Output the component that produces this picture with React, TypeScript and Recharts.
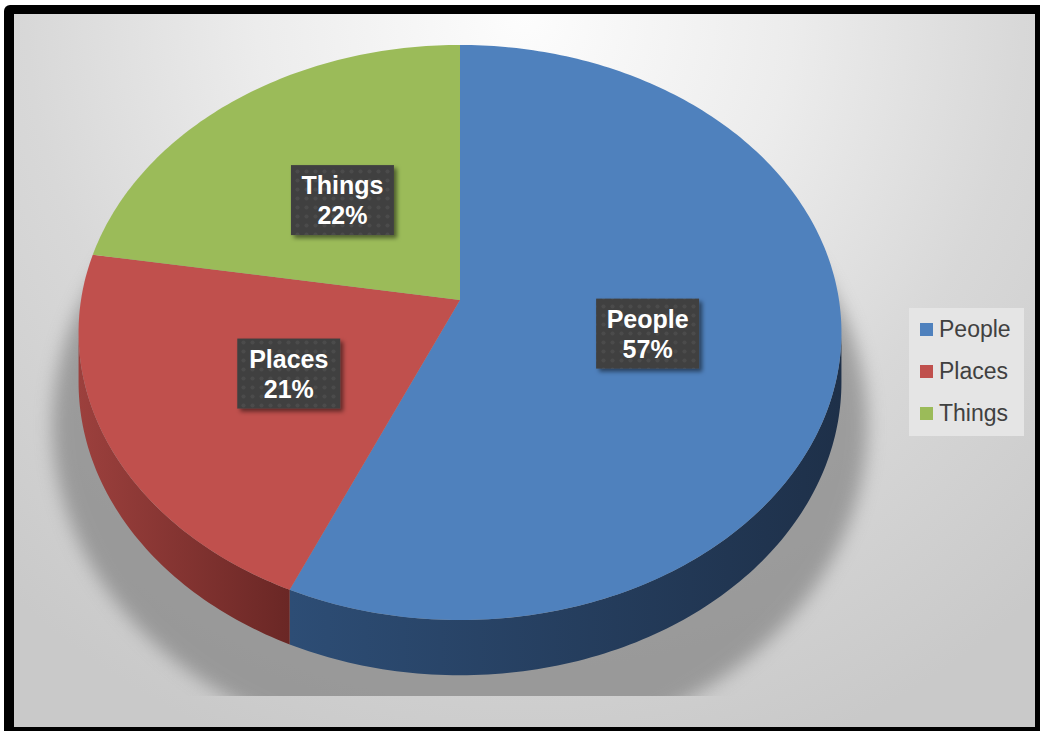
import React from 'react';
import { PieChart, Pie, Cell, Legend } from 'recharts';

const categories = ['People', 'Places', 'Things'];
const shares = [56.6, 21.0, 22.4];
const topColors = ['#4f81bd', '#c0504d', '#9bbb59'];
const sideLight = ['#2d4d75', '#9c403d', '#7d9843'];
const sideDark = ['#1e3049', '#6a2725', '#5a7030'];

const data = categories.map((name, i) => ({ name, value: shares[i] }));
const shadowData = [{ name: 'shadow', value: 1 }];

const CHART_W = 1021;
const CHART_H = 713;
const CX = 446;
const CY = 286;
const R = 379;
const K = 0.113; // perspective strength
const YR = 0.749; // vertical squash
const DEPTH = 49; // pie thickness
const LABEL_DROP = 4;

const toTheta = (a: number) => ((90 - a) * Math.PI) / 180;

function proj(cx: number, cy: number, r: number, theta: number, f = 1, drop = 0): [number, number] {
  const u = f * Math.sin(theta);
  const v = f * Math.cos(theta);
  const d = 1 + K * v;
  return [cx + (r * u) / d, cy - (r * YR * v) / d + drop / d];
}

const SectorShape = (props: any) => {
  const { cx, cy, outerRadius, startAngle, endAngle, index, fill } = props;
  const t1 = toTheta(startAngle);
  const t2 = toTheta(endAngle);
  const n = Math.max(8, Math.ceil(Math.abs(t2 - t1) * 60));
  const pts: [number, number][] = [];
  for (let i = 0; i <= n; i++) pts.push(proj(cx, cy, outerRadius, t1 + ((t2 - t1) * i) / n));
  const top = `M${cx},${cy} ` + pts.map((p) => `L${p[0].toFixed(2)},${p[1].toFixed(2)}`).join(' ') + ' Z';

  const vs = Math.PI / 2 + Math.asin(K);
  const ve = (3 * Math.PI) / 2 - Math.asin(K);
  const a = Math.max(Math.min(t1, t2), vs);
  const b = Math.min(Math.max(t1, t2), ve);
  let side: string | null = null;
  if (b > a) {
    const m = Math.max(6, Math.ceil((b - a) * 60));
    const upper: [number, number][] = [];
    const lower: [number, number][] = [];
    for (let i = 0; i <= m; i++) {
      const th = a + ((b - a) * i) / m;
      upper.push(proj(cx, cy, outerRadius, th));
      lower.push(proj(cx, cy, outerRadius, th, 1, DEPTH));
    }
    const all = [...upper, ...lower.reverse()];
    side = 'M' + all.map((p) => `${p[0].toFixed(2)},${p[1].toFixed(2)}`).join(' L') + ' Z';
  }
  const gid = `sideGrad${index}`;
  return (
    <g>
      <defs>
        <linearGradient id={gid} x1="0" y1="0" x2="1" y2="0">
          <stop offset="0%" stopColor={sideLight[index]} />
          <stop offset="100%" stopColor={sideDark[index]} />
        </linearGradient>
      </defs>
      {side && <path d={side} fill={`url(#${gid})`} />}
      <path d={top} fill={fill} />
    </g>
  );
};

const ShadowShape = (props: any) => {
  const { cx, cy, outerRadius: r } = props;
  return (
    <g>
      <defs>
        <filter id="shBlur" x="-30%" y="-30%" width="160%" height="160%">
          <feGaussianBlur stdDeviation="9" />
        </filter>
        <clipPath id="shClip">
          <rect x={cx - 2 * r} y={cy - 2 * r} width={4 * r} height={r * (2 + 1.045)} />
        </clipPath>
      </defs>
      <g clipPath="url(#shClip)">
        <ellipse
          cx={cx}
          cy={cy + 0.33 * r}
          rx={1.075 * r}
          ry={0.87 * r}
          fill="#767676"
          opacity={0.6}
          filter="url(#shBlur)"
        />
      </g>
    </g>
  );
};

const renderLabel = (props: any) => {
  const { cx, cy, outerRadius, midAngle, percent, name, index } = props;
  const [x, y] = proj(cx, cy, outerRadius, toTheta(midAngle), 0.5, LABEL_DROP);
  const w = 103;
  const h = 70;
  return (
    <g key={`lab${index}`}>
      <defs>
        <pattern id={`dots${index}`} width="9" height="9" patternUnits="userSpaceOnUse">
          <rect width="9" height="9" fill="#404040" />
          <circle cx="4.5" cy="4.5" r="2" fill="#4b4b4b" />
        </pattern>
        <filter id={`boxSh${index}`} x="-20%" y="-20%" width="150%" height="150%">
          <feDropShadow dx="3" dy="3" stdDeviation="2" floodColor="#000" floodOpacity="0.5" />
        </filter>
      </defs>
      <rect x={x - w / 2} y={y - h / 2} width={w} height={h} fill={`url(#dots${index})`} filter={`url(#boxSh${index})`} />
      <text
        x={x}
        y={y - 6}
        textAnchor="middle"
        fill="#ffffff"
        fontWeight="bold"
        fontSize={25}
        fontFamily="'Liberation Sans', Arial, sans-serif"
      >
        {name}
      </text>
      <text
        x={x}
        y={y + 24}
        textAnchor="middle"
        fill="#ffffff"
        fontWeight="bold"
        fontSize={25}
        fontFamily="'Liberation Sans', Arial, sans-serif"
      >
        {`${Math.round(percent * 100)}%`}
      </text>
    </g>
  );
};

const renderLegend = (props: any) => {
  const payload = (props.payload || []).filter((p: any) => categories.includes(p.value));
  return (
    <div
      style={{
        width: 115,
        height: 128,
        background: '#e5e5e5',
        fontFamily: "'Liberation Sans', Arial, sans-serif",
      }}
    >
      {payload.map((p: any) => {
        const i = categories.indexOf(p.value);
        return (
          <div key={p.value} style={{ display: 'flex', alignItems: 'center', height: 42 }}>
            <span
              style={{ display: 'inline-block', width: 13, height: 13, background: topColors[i], marginLeft: 11, marginRight: 6 }}
            />
            <span style={{ fontSize: 23, color: '#404040', lineHeight: '42px' }}>{p.value}</span>
          </div>
        );
      })}
    </div>
  );
};

export default function App() {
  return (
    <div
      style={{
        position: 'absolute',
        left: 4,
        top: 5,
        width: 1036,
        height: 726,
        background: '#000',
        borderTopLeftRadius: 6,
      }}
    >
      <div
        style={{
          position: 'absolute',
          left: 10,
          top: 9,
          width: CHART_W,
          height: CHART_H,
          background:
            'radial-gradient(ellipse 75% 110% at 50% 0%, #fdfdfd 0%, #ececec 35%, #d8d8d8 65%, #c9c9c9 100%)',
        }}
      >
        <PieChart width={CHART_W} height={CHART_H} margin={{ top: 0, right: 0, bottom: 0, left: 0 }}>
          <Pie
            data={shadowData}
            dataKey="value"
            nameKey="name"
            cx={CX}
            cy={CY}
            outerRadius={R}
            startAngle={90}
            endAngle={-270}
            isAnimationActive={false}
            legendType="none"
            shape={ShadowShape}
            stroke="none"
          />
          <Pie
            data={data}
            dataKey="value"
            nameKey="name"
            cx={CX}
            cy={CY}
            outerRadius={R}
            startAngle={90}
            endAngle={-270}
            isAnimationActive={false}
            shape={SectorShape}
            label={renderLabel}
            labelLine={false}
            stroke="none"
          >
            {data.map((d, i) => (
              <Cell key={d.name} fill={topColors[i]} />
            ))}
          </Pie>
          <Legend
            layout="vertical"
            align="right"
            verticalAlign="middle"
            content={renderLegend}
            wrapperStyle={{ left: 895, top: 294, width: 115, height: 128, right: 'auto', bottom: 'auto' }}
          />
        </PieChart>
      </div>
    </div>
  );
}
